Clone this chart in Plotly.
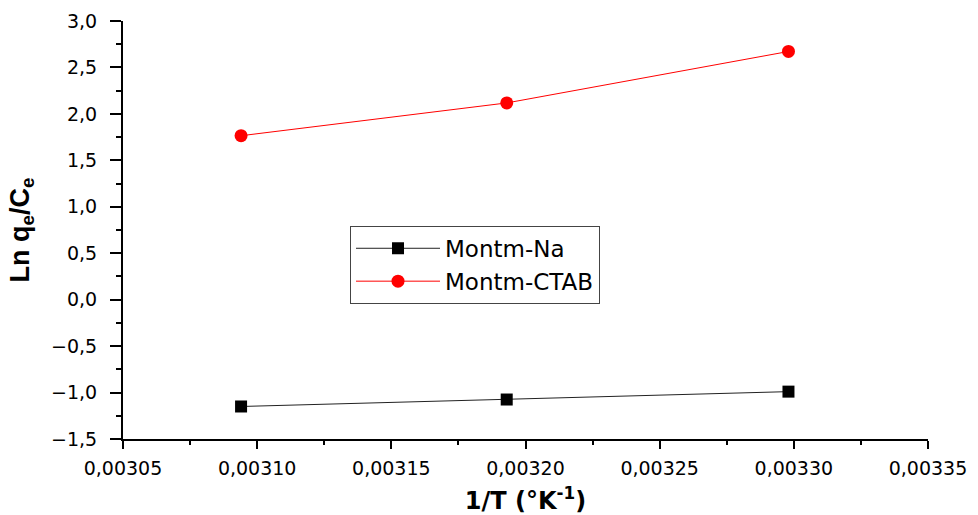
import plotly.graph_objects as go

inv_T = [0.003094, 0.003193, 0.003298]
na_vals = [-1.15, -1.075, -0.99]
ctab_vals = [1.765, 2.118, 2.672]

fig = go.Figure()
fig.add_trace(go.Scatter(
    x=inv_T, y=na_vals, mode="lines+markers", name="Montm-Na",
    line=dict(color="#222222", width=1),
    marker=dict(symbol="square", size=12, color="black"),
))
fig.add_trace(go.Scatter(
    x=inv_T, y=ctab_vals, mode="lines+markers", name="Montm-CTAB",
    line=dict(color="red", width=1),
    marker=dict(symbol="circle", size=13, color="red"),
))

tickfont = dict(family="DejaVu Sans", size=19, color="black")

fig.update_layout(
    width=978, height=515,
    separators=",.",
    paper_bgcolor="white", plot_bgcolor="white",
    margin=dict(l=123, r=50, t=21, b=76),
    showlegend=True,
    legend=dict(
        x=0.282, y=0.51, xanchor="left", yanchor="top",
        bgcolor="white", bordercolor="#444444", borderwidth=1,
        font=dict(family="DejaVu Sans", size=23, color="black"),
        itemwidth=84, tracegroupgap=0,
    ),
    xaxis=dict(
        range=[0.00305, 0.00335], dtick=0.00005, tick0=0.00305,
        tickformat=".5f", showgrid=False, zeroline=False, automargin=False,
        showline=True, linecolor="black", linewidth=2,
        ticks="outside", ticklen=8, tickwidth=2, tickcolor="black",
        minor=dict(ticks="outside", ticklen=4, tickwidth=2, tickcolor="black", dtick=0.000025, showgrid=False),
        tickfont=tickfont, ticklabelstandoff=3,
        title=dict(text="<b>1/T (°K<sup>-1</sup>)</b>", font=dict(family="DejaVu Sans", size=24, color="black"), standoff=20),
    ),
    yaxis=dict(
        range=[-1.5, 3.0], dtick=0.5, tick0=-1.5,
        tickformat=".1f", showgrid=False, zeroline=False, automargin=False,
        showline=True, linecolor="black", linewidth=2,
        ticks="outside", ticklen=11, tickwidth=2, tickcolor="black",
        minor=dict(ticks="outside", ticklen=5, tickwidth=2, tickcolor="black", dtick=0.25, showgrid=False),
        tickfont=tickfont, ticklabelstandoff=9,
        title=dict(text="<b>Ln q<sub>e</sub>/C<sub>e</sub></b>", font=dict(family="Liberation Sans", size=27, color="black"), standoff=14),
    ),
)

fig.write_html("out.html")
